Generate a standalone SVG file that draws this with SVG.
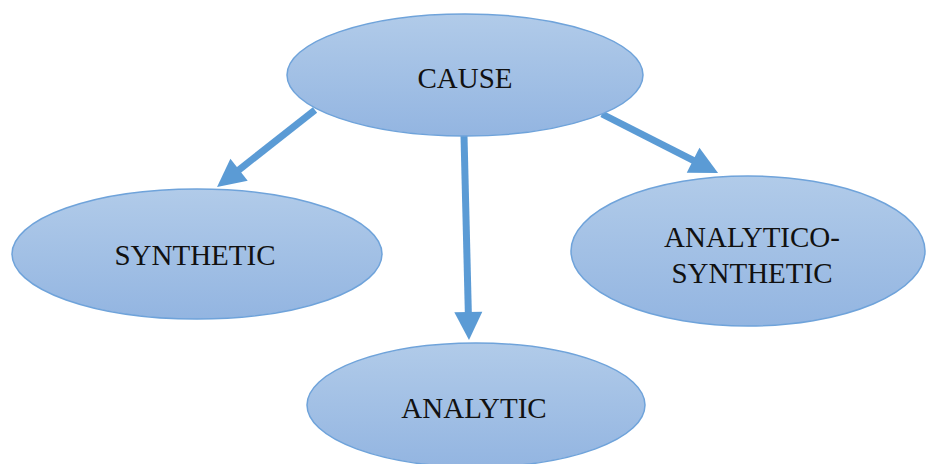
<svg xmlns="http://www.w3.org/2000/svg" width="929" height="464" viewBox="0 0 929 464">
<defs>
<linearGradient id="g" x1="0" y1="0" x2="0" y2="1">
<stop offset="0" stop-color="#b1cbe9"/>
<stop offset="1" stop-color="#93b5e1"/>
</linearGradient>
<marker id="ah" markerWidth="4" markerHeight="4" refX="0.5" refY="2" orient="auto" markerUnits="strokeWidth" overflow="visible">
<path d="M0,0 L4,2 L0,4 Z" fill="#5b9bd5"/>
</marker>
<style>
.n{fill:url(#g);stroke:#6fa3da;stroke-width:1.5}
.t{font-family:"Liberation Serif","Times New Roman",serif;font-size:29px;fill:#111;text-anchor:middle}
.c{stroke:#5b9bd5;stroke-width:7;fill:none;marker-end:url(#ah)}
</style>
</defs>
<rect width="929" height="464" fill="#fff"/>
<g id="connectors">
<line class="c" x1="315" y1="110" x2="236.3" y2="171.9"/>
<line class="c" x1="602" y1="114" x2="696.2" y2="161.9"/>
<line class="c" x1="464" y1="136" x2="468.4" y2="315.5"/>
</g>
<g id="cause">
<ellipse class="n" cx="465" cy="75" rx="178" ry="61"/>
<text class="t" x="465" y="88">CAUSE</text>
</g>
<g id="synthetic">
<ellipse class="n" cx="197" cy="254" rx="185" ry="65"/>
<text class="t" x="195" y="265">SYNTHETIC</text>
</g>
<g id="analytico-synthetic">
<ellipse class="n" cx="748" cy="251" rx="177" ry="75"/>
<text class="t" x="752" y="247">ANALYTICO-</text>
<text class="t" x="752" y="283">SYNTHETIC</text>
</g>
<g id="analytic">
<ellipse class="n" cx="476" cy="405" rx="169" ry="62"/>
<text class="t" x="474" y="418">ANALYTIC</text>
</g>
</svg>
